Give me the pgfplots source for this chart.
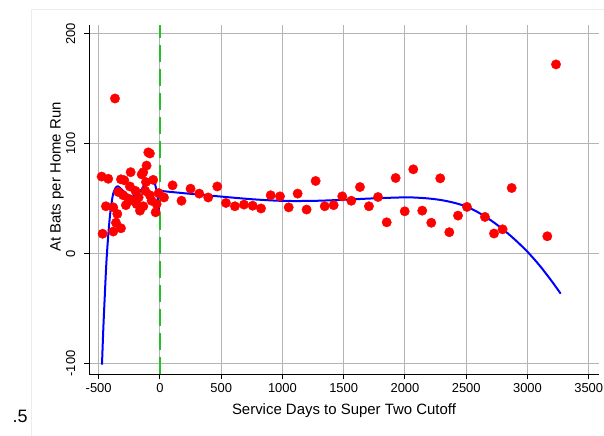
\documentclass[border=0pt]{standalone}
\usepackage{fontspec}
\setmainfont{Liberation Sans}
\usepackage{pgfplots}
\pgfplotsset{compat=1.18}
\definecolor{frame}{RGB}{232,238,240}
\definecolor{vgreen}{RGB}{40,190,40}
\definecolor{gridc}{RGB}{180,180,180}
\begin{document}
\begin{tikzpicture}[x=1bp,y=1bp]
\useasboundingbox (0,0) rectangle (604,436);
\draw[frame, line width=1bp] (31.5,0) -- (31.5,426.5) -- (604,426.5);
\node[font=\fontsize{18}{20}\selectfont] at (20,20) {.5};
\begin{axis}[
  at={(89bp,61.5bp)}, anchor=south west,
  scale only axis, width=510bp, height=349bp,
  xmin=-579, xmax=3584, ymin=-110, ymax=207.4,
  axis x line*=bottom, axis y line*=left,
  axis line style={black, line width=1bp},
  xtick={-500,0,500,1000,1500,2000,2500,3000,3500},
  ytick={-100,0,100,200},
  tick align=outside, major tick length=5bp,
  tick style={black, line width=1bp},
  grid=major, major grid style={gridc, line width=1bp},
  scaled ticks=false,
  /pgf/number format/assume math mode=true,
  /pgf/number format/set thousands separator={},
  tick label style={font=\fontsize{13}{15}\selectfont},
  yticklabel style={rotate=90, anchor=south, inner ysep=8.5bp},
  label style={font=\fontsize{15}{17}\selectfont},
  xlabel={Service Days to Super Two Cutoff},
  ylabel={At Bats per Home Run},
  xlabel style={at={(axis description cs:0.5,-0.1046)}, anchor=center},
  ylabel style={at={(axis description cs:-0.0627,0.566)}, anchor=center},
]
\addplot[vgreen, line width=2bp, dash pattern=on 17bp off 7bp] coordinates {(0,-110) (0,207.4)};
\addplot[only marks, mark=*, mark size=4.7bp, mark options={fill=red, draw=red}] table {
x y
-476 70
-422 68
-441 43
-468 18
-381 20
-348 36
-381 42
-359 28
-318 23
-340 56
-318 67.5
-291 66.6
-239 74
-245 61
-278 44
-259 50
-218 48
-163 39
-136 43
-174 51
-149 72
-136 74
-109 80
-95 92
-82 91
-114 65
-82 53
-55 67
-68 48
-27 45
-35 37.5
-367 141
-300 53
-200 57
-190 45
-120 57
-10 55
33 51
103 62
176 48
250 59
321 54.5
394 51
468 61
539 46
612 43
686 44.5
757 43.5
825 41
904 53
980 52
1051 42
1124 54.5
1197 40
1271 66
1345 43
1418 44
1488 52
1562 48
1633 60.5
1706 43
1780 51.4
1851 28.4
1924 68.7
1998 38.4
2068 76.6
2141 39
2215 28
2288 68.4
2362 19.4
2433 34.5
2506 42.4
2653 33.3
2727 18.2
2797 22
2871 59.6
3162 15.7
3233 172
};
\addplot[blue, line width=2bp, smooth] table {
x y
-473 -101
-462 -68
-450 -38
-438 -10
-425 12
-410 32
-395 46
-380 55
-360 60
-340 61
-300 57
-260 53
-220 52
-180 54
-140 60
-109 65
-85 68
-65 67
-40 63
-20 52
-6 37
};
\addplot[blue, line width=2bp, smooth] table {
x y
0 57
250 54.3
500 51.8
750 49.4
1000 47.9
1250 47.9
1500 48.9
1750 50.2
2000 51.1
2100 50.8
2200 50.0
2300 48.55
2400 46.2
2500 42.8
2600 37.3
2700 30.3
2800 22
2900 12.4
3000 1.6
3100 -11
3200 -25.4
3271 -36.5
};
\end{axis}
\end{tikzpicture}
\end{document}
